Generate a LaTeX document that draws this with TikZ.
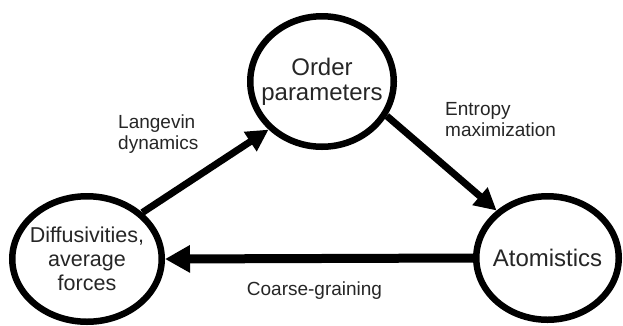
\documentclass[tikz,border=0pt]{standalone}
\usepackage{fontspec}
\setmainfont{Liberation Sans}
\usetikzlibrary{shapes.geometric,arrows.meta}
\definecolor{ink}{HTML}{262626}
\begin{document}
\begin{tikzpicture}[x=1pt,y=-1pt,
  state/.style={ellipse,draw=black,line width=6.5pt,inner xsep=-30pt,inner ysep=-20pt,align=center,text=ink},
  lbl/.style={inner sep=0pt,align=left,text=ink,font=\fontsize{19}{21}\selectfont},
  link/.style={line width=7pt,-{Triangle[length=22pt,width=22pt]}},
  bigarrow/.style={line width=9pt,-{Triangle[length=25pt,width=26pt]}}]
\fill[white] (0,0) rectangle (623,325);
\useasboundingbox (0,0) rectangle (623,325);
\node[state,minimum width=143.5pt,minimum height=130.5pt,font=\fontsize{24}{25}\selectfont] (op) at (322,81.5) {Order\\parameters};
\node[state,minimum width=149.5pt,minimum height=125.5pt,font=\fontsize{21.5}{24}\selectfont] (df) at (87,259) {Diffusivities,\\average\\forces};
\node[state,minimum width=142.5pt,minimum height=123.5pt,font=\fontsize{24}{25}\selectfont] (at) at (547.5,258) {Atomistics};
\draw[link] (df.40) -- (op.222);
\draw[link] (op.-28) -- (at.137);
\draw[bigarrow] (at.west) -- (df.east);
\node[lbl,anchor=north west] (lg) at (118,115) {Langevin\\dynamics};
\node[lbl,anchor=north west] (en) at (445,102) {Entropy\\maximization};
\node[lbl,anchor=north] (cg) at (314.5,282) {Coarse-graining};
\end{tikzpicture}
\end{document}
